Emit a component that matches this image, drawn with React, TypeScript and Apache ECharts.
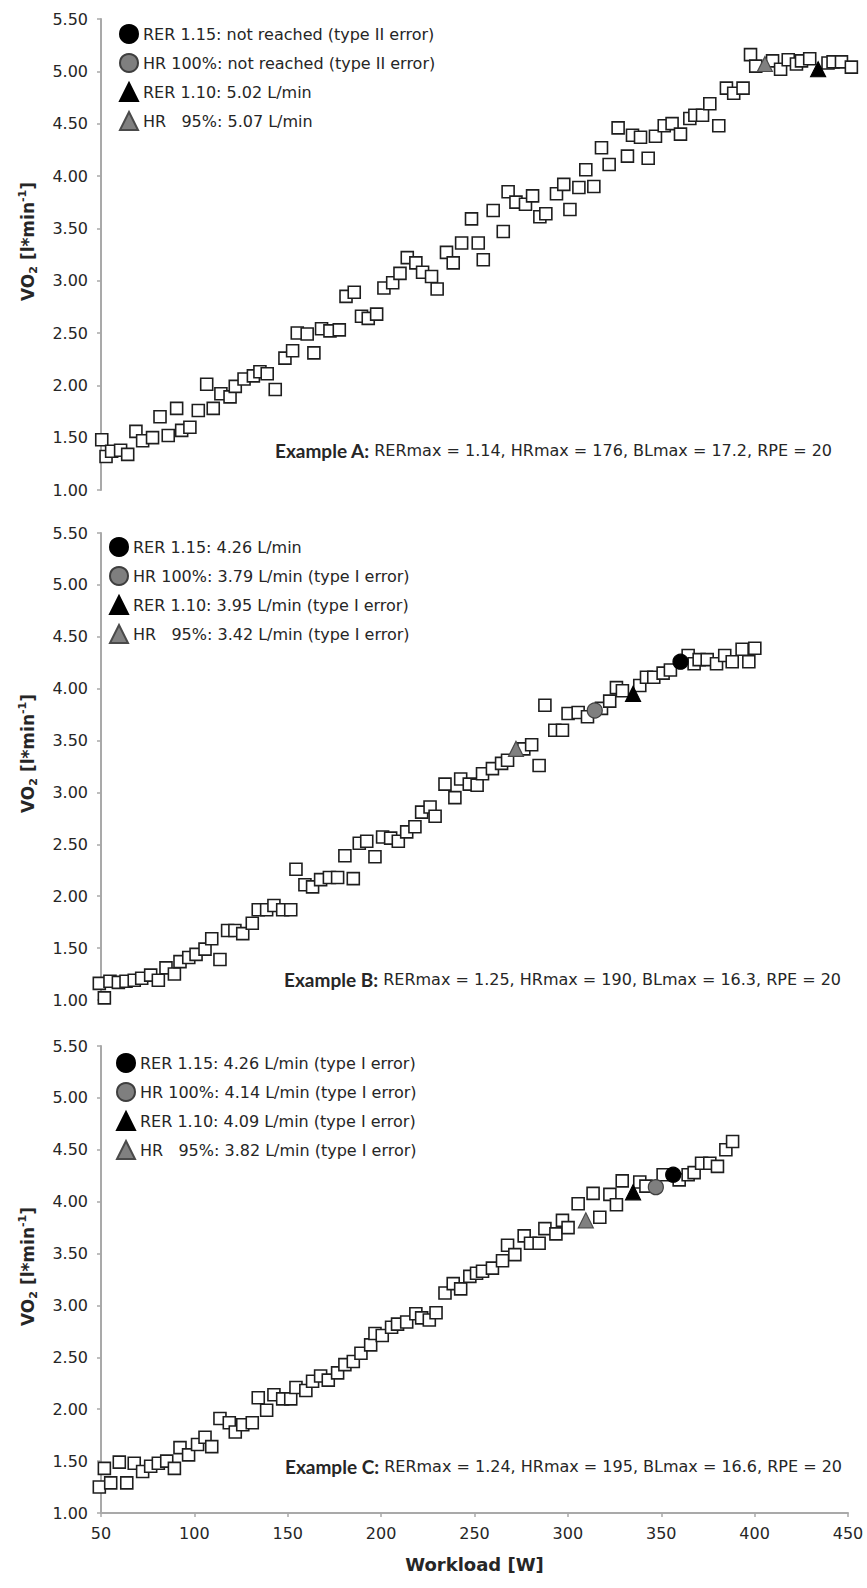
import React, { useEffect, useRef } from "react";
import * as echarts from "echarts";

// ---------- Data ----------
const xTickMin = 50;
const xTickMax = 450;
const xTickStep = 50;
const yTickMin = 1.0;
const yTickMax = 5.5;
const yTickStep = 0.5;

// Example A
const aWorkload = [50.4, 52.7, 55.7, 60.5, 64.3, 68.7, 72.3, 77.6, 81.6, 86.0, 90.5, 93.2, 97.6, 102.1, 106.6, 110.1, 114.2, 119.1, 121.9, 126.6, 131.6, 135.1, 139.0, 143.3, 148.5, 152.6, 155.1, 160.4, 164.0, 168.1, 172.6, 177.6, 181.2, 185.6, 189.5, 193.1, 197.6, 201.5, 206.2, 210.1, 214.0, 218.6, 222.2, 227.0, 230.0, 235.0, 238.6, 243.1, 248.4, 252.0, 254.7, 260.0, 265.4, 268.0, 272.2, 277.3, 281.1, 285.0, 288.2, 293.9, 297.8, 301.1, 305.9, 309.6, 313.9, 318.0, 322.1, 326.9, 331.9, 334.6, 338.9, 343.0, 346.9, 351.6, 355.8, 360.3, 365.3, 368.0, 372.1, 376.0, 380.8, 384.9, 388.8, 393.8, 397.8, 400.6, 409.6, 413.9, 418.0, 422.4, 425.1, 429.5, 439.3, 442.0, 446.5, 451.8];
const aVO2 = [1.48, 1.32, 1.37, 1.38, 1.34, 1.56, 1.47, 1.50, 1.70, 1.52, 1.78, 1.57, 1.60, 1.76, 2.01, 1.78, 1.92, 1.89, 1.99, 2.06, 2.09, 2.13, 2.11, 1.96, 2.26, 2.33, 2.50, 2.49, 2.31, 2.54, 2.52, 2.53, 2.85, 2.89, 2.66, 2.64, 2.68, 2.93, 2.98, 3.07, 3.22, 3.17, 3.08, 3.04, 2.92, 3.27, 3.17, 3.36, 3.59, 3.36, 3.20, 3.67, 3.47, 3.85, 3.75, 3.73, 3.81, 3.61, 3.64, 3.83, 3.92, 3.68, 3.89, 4.06, 3.90, 4.27, 4.11, 4.46, 4.19, 4.39, 4.37, 4.17, 4.38, 4.48, 4.50, 4.40, 4.55, 4.58, 4.58, 4.69, 4.48, 4.84, 4.79, 4.84, 5.16, 5.05, 5.10, 5.02, 5.11, 5.07, 5.10, 5.12, 5.08, 5.09, 5.09, 5.04];
const aLegend = ["RER 1.15: not reached (type II error)", "HR 100%: not reached (type II error)", "RER 1.10: 5.02 L/min", "HR   95%: 5.07 L/min"];
const aMarkerWorkload = [null, null, 434.0, 405.5];
const aMarkerVO2 = [null, null, 5.02, 5.07];
const aSummaryLabel = "Example A:";
const aSummaryText = " RERmax = 1.14, HRmax = 176, BLmax = 17.2, RPE = 20";

// Example B
const bWorkload = [49.1, 51.8, 54.8, 59.3, 63.4, 67.8, 71.8, 76.6, 80.7, 84.8, 89.3, 92.3, 97.0, 100.9, 105.7, 109.3, 113.7, 117.8, 121.7, 125.9, 131.0, 134.2, 138.7, 142.6, 147.3, 151.6, 154.4, 159.2, 163.3, 167.6, 172.3, 176.7, 180.6, 185.1, 188.3, 192.3, 196.7, 200.8, 205.1, 209.2, 213.7, 218.1, 221.7, 226.2, 228.9, 234.2, 239.5, 242.6, 247.2, 251.4, 254.3, 259.6, 264.5, 267.7, 276.4, 280.6, 284.6, 287.7, 293.0, 297.1, 300.1, 305.5, 310.5, 318.0, 322.4, 326.0, 329.2, 338.5, 342.1, 346.0, 351.0, 354.9, 364.4, 367.6, 370.3, 374.6, 379.6, 384.0, 388.0, 393.3, 396.9, 400.1];
const bVO2 = [1.16, 1.02, 1.18, 1.17, 1.18, 1.19, 1.21, 1.24, 1.19, 1.31, 1.25, 1.37, 1.41, 1.44, 1.49, 1.59, 1.39, 1.67, 1.67, 1.64, 1.74, 1.87, 1.87, 1.91, 1.87, 1.87, 2.26, 2.11, 2.09, 2.16, 2.18, 2.18, 2.39, 2.17, 2.51, 2.53, 2.38, 2.57, 2.56, 2.53, 2.62, 2.67, 2.81, 2.86, 2.77, 3.08, 2.95, 3.13, 3.08, 3.07, 3.18, 3.23, 3.28, 3.31, 3.42, 3.46, 3.26, 3.84, 3.60, 3.60, 3.76, 3.77, 3.73, 3.81, 3.88, 4.01, 3.98, 4.03, 4.11, 4.11, 4.15, 4.18, 4.32, 4.24, 4.28, 4.28, 4.24, 4.32, 4.26, 4.38, 4.26, 4.39];
const bLegend = ["RER 1.15: 4.26 L/min", "HR 100%: 3.79 L/min (type I error)", "RER 1.10: 3.95 L/min (type I error)", "HR   95%: 3.42 L/min (type I error)"];
const bMarkerWorkload = [360.3, 314.4, 334.9, 272.2];
const bMarkerVO2 = [4.26, 3.79, 3.95, 3.42];
const bSummaryLabel = "Example B:";
const bSummaryText = " RERmax = 1.25, HRmax = 190, BLmax = 16.3, RPE = 20";

// Example C
const cWorkload = [49.1, 51.8, 55.2, 59.8, 63.8, 67.8, 72.3, 76.6, 80.7, 85.2, 89.3, 92.3, 96.9, 101.7, 105.7, 109.3, 113.7, 118.7, 121.9, 125.9, 131.0, 134.2, 138.7, 142.6, 147.3, 151.6, 154.4, 159.7, 163.3, 167.6, 171.7, 176.7, 180.6, 185.1, 189.2, 194.4, 196.7, 200.6, 205.6, 208.8, 213.7, 218.6, 221.7, 225.8, 229.4, 234.2, 238.6, 242.6, 247.5, 251.1, 254.3, 259.6, 265.0, 267.7, 271.6, 276.6, 280.0, 284.6, 287.7, 293.6, 297.1, 300.1, 305.5, 313.5, 317.1, 322.5, 326.0, 329.1, 338.5, 341.8, 351.0, 359.6, 364.4, 367.6, 371.6, 376.0, 380.1, 384.6, 388.2];
const cVO2 = [1.25, 1.43, 1.29, 1.49, 1.29, 1.48, 1.40, 1.45, 1.48, 1.50, 1.43, 1.63, 1.56, 1.66, 1.73, 1.64, 1.91, 1.87, 1.78, 1.85, 1.87, 2.11, 1.99, 2.14, 2.10, 2.10, 2.21, 2.18, 2.27, 2.32, 2.28, 2.35, 2.43, 2.46, 2.54, 2.62, 2.73, 2.71, 2.79, 2.82, 2.84, 2.92, 2.88, 2.86, 2.93, 3.12, 3.21, 3.16, 3.28, 3.31, 3.33, 3.36, 3.43, 3.58, 3.49, 3.67, 3.60, 3.60, 3.74, 3.69, 3.82, 3.75, 3.98, 4.08, 3.85, 4.07, 3.97, 4.20, 4.19, 4.15, 4.26, 4.21, 4.26, 4.28, 4.37, 4.37, 4.34, 4.50, 4.58];
const cLegend = ["RER 1.15: 4.26 L/min (type I error)", "HR 100%: 4.14 L/min (type I error)", "RER 1.10: 4.09 L/min (type I error)", "HR   95%: 3.82 L/min (type I error)"];
const cMarkerWorkload = [356.4, 347.1, 334.9, 309.6];
const cMarkerVO2 = [4.26, 4.14, 4.09, 3.82];
const cSummaryLabel = "Example C:";
const cSummaryText = " RERmax = 1.24, HRmax = 195, BLmax = 16.6, RPE = 20";

const xAxisTitle = "Workload [W]";

// ---------- Layout / style ----------
const W = 867;
const H = 1588;
const GRID_LEFT = 101;
const GRID_WIDTH = 747;
const PANEL_LAYOUT = [
  { top: 19, height: 471, legendLeft: 119, legendTop: 24, noteX: 832, noteY: 450 },
  { top: 533, height: 467, legendLeft: 109, legendTop: 537, noteX: 841, noteY: 979 },
  { top: 1046, height: 467, legendLeft: 116, legendTop: 1053, noteX: 842, noteY: 1466 },
];
const AXIS_COLOR = "#A9A9A9";
const TEXT_COLOR = "#262626";
const FONT = "'DejaVu Sans', sans-serif";
const MARKER_STYLES = [
  { symbol: "circle", size: 15, color: "#000000", border: "#000000" },
  { symbol: "circle", size: 15, color: "#7F7F7F", border: "#3F3F3F" },
  { symbol: "triangle", size: 15, color: "#000000", border: "#000000" },
  { symbol: "triangle", size: 15, color: "#808080", border: "#4A4A4A" },
];

const panels = [
  { wl: aWorkload, vo: aVO2, legend: aLegend, mw: aMarkerWorkload, mv: aMarkerVO2, label: aSummaryLabel, text: aSummaryText },
  { wl: bWorkload, vo: bVO2, legend: bLegend, mw: bMarkerWorkload, mv: bMarkerVO2, label: bSummaryLabel, text: bSummaryText },
  { wl: cWorkload, vo: cVO2, legend: cLegend, mw: cMarkerWorkload, mv: cMarkerVO2, label: cSummaryLabel, text: cSummaryText },
];

function buildOption() {
  const grid: any[] = [];
  const xAxis: any[] = [];
  const yAxis: any[] = [];
  const series: any[] = [];
  const legend: any[] = [];
  const graphic: any[] = [];

  panels.forEach((p, i) => {
    const L = PANEL_LAYOUT[i];
    const isLast = i === panels.length - 1;
    grid.push({ left: GRID_LEFT, top: L.top, width: GRID_WIDTH, height: L.height, containLabel: false, outerBoundsMode: "none" });
    xAxis.push({
      type: "value",
      gridIndex: i,
      min: xTickMin,
      max: xTickMax,
      interval: xTickStep,
      show: isLast,
      name: isLast ? xAxisTitle : "",
      nameLocation: "middle",
      nameGap: 42,
      nameTextStyle: { fontFamily: FONT, fontWeight: "bold", fontSize: 18, color: TEXT_COLOR },
      axisLine: { show: true, onZero: false, lineStyle: { color: AXIS_COLOR, width: 2 } },
      axisTick: { show: true, length: 4, lineStyle: { color: AXIS_COLOR, width: 1.5 } },
      axisLabel: { show: true, margin: 12, fontFamily: FONT, fontSize: 16, color: TEXT_COLOR },
      splitLine: { show: false },
    });
    yAxis.push({
      type: "value",
      gridIndex: i,
      min: yTickMin,
      max: yTickMax,
      interval: yTickStep,
      name: "{a|VO}{sub|2}{a| [l*min}{sup|-1}{a|]}",
      nameLocation: "middle",
      nameRotate: 90,
      nameGap: 62,
      nameTextStyle: {
        padding: [0, 0, 0, 26],
        rich: {
          a: { fontFamily: FONT, fontWeight: "bold", fontSize: 17, color: TEXT_COLOR, verticalAlign: "middle", lineHeight: 22 },
          sub: { fontFamily: FONT, fontWeight: "bold", fontSize: 11, color: TEXT_COLOR, verticalAlign: "bottom", lineHeight: 22 },
          sup: { fontFamily: FONT, fontWeight: "bold", fontSize: 11, color: TEXT_COLOR, verticalAlign: "top", lineHeight: 22 },
        },
      },
      axisLine: { show: true, onZero: false, lineStyle: { color: AXIS_COLOR, width: 2 } },
      axisTick: { show: true, length: 4, lineStyle: { color: AXIS_COLOR, width: 1.5 } },
      axisLabel: {
        show: true,
        margin: 13,
        fontFamily: FONT,
        fontSize: 16,
        color: TEXT_COLOR,
        formatter: (v: number) => v.toFixed(2),
      },
      splitLine: { show: false },
    });

    series.push({
      type: "scatter",
      name: "VO2 " + i,
      xAxisIndex: i,
      yAxisIndex: i,
      symbol: "rect",
      symbolSize: 12,
      clip: false,
      itemStyle: { color: "#FFFFFF", borderColor: "#1E1E1E", borderWidth: 1.6, opacity: 1 },
      data: p.wl.map((w, k) => [w, p.vo[k]]),
      z: 2,
    });

    p.legend.forEach((name, k) => {
      const st = MARKER_STYLES[k];
      const w = p.mw[k];
      const v = p.mv[k];
      series.push({
        type: "scatter",
        name,
        xAxisIndex: i,
        yAxisIndex: i,
        symbol: st.symbol,
        symbolSize: st.size,
        clip: false,
        itemStyle: { color: st.color, borderColor: st.border, borderWidth: 1.2, opacity: 1 },
        data: w == null || v == null ? [] : [[w, v]],
        z: 5,
      });
    });

    legend.push({
      data: p.legend.map((name, k) => ({ name, icon: MARKER_STYLES[k].symbol })),
      orient: "vertical",
      left: L.legendLeft,
      top: L.legendTop,
      itemWidth: 18,
      itemHeight: 18,
      itemGap: 9,
      padding: 0,
      selectedMode: false,
      textStyle: { fontFamily: FONT, fontSize: 16, color: TEXT_COLOR, padding: [0, 0, 0, 0] },
    });

    graphic.push({
      type: "text",
      x: L.noteX,
      y: L.noteY,
      silent: true,
      style: {
        text: "{b|" + p.label + "}{n|" + p.text + "}",
        align: "right",
        textAlign: "right",
        verticalAlign: "middle",
        textVerticalAlign: "middle",
        fill: TEXT_COLOR,
        rich: {
          b: { fontFamily: "Lato, 'Open Sans', sans-serif", fontWeight: "bold", fontSize: 19, fill: TEXT_COLOR },
          n: { fontFamily: FONT, fontSize: 16, fill: TEXT_COLOR },
        },
      },
    });
  });

  return {
    animation: false,
    backgroundColor: "#FFFFFF",
    grid,
    xAxis,
    yAxis,
    series,
    legend,
    graphic,
    tooltip: { show: false },
  };
}

export default function App() {
  const ref = useRef<HTMLDivElement | null>(null);

  useEffect(() => {
    document.body.style.margin = "0";
    if (!ref.current) return;
    const chart = echarts.init(ref.current, null, { renderer: "svg", width: W, height: H });
    chart.setOption(buildOption() as any);
    return () => {
      chart.dispose();
    };
  }, []);

  return <div ref={ref} style={{ position: "absolute", left: 0, top: 0, width: W, height: H, background: "#fff" }} />;
}
